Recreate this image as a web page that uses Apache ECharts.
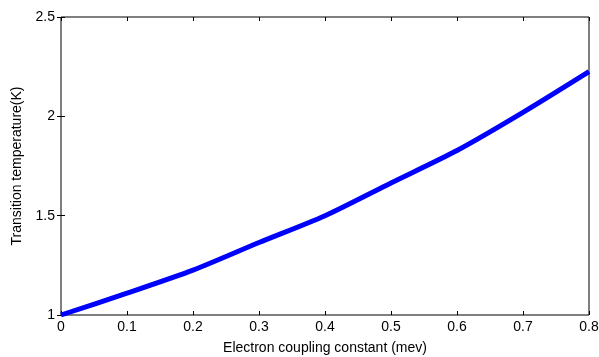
<!DOCTYPE html>
<html>
<head>
<meta charset="utf-8">
<script src="https://cdn.jsdelivr.net/npm/echarts@6/dist/echarts.min.js"></script>
<style>
  html, body { margin: 0; padding: 0; background: #fff; }
  #chart { width: 599px; height: 357px; }
</style>
</head>
<body>
<div id="chart"></div>
<script>
const couplingX = [0, 0.1, 0.2, 0.3, 0.4, 0.5, 0.6, 0.7, 0.8];
const transitionT = [1.0, 1.11, 1.226, 1.365, 1.5, 1.665, 1.828, 2.02, 2.225];

const font = 'Liberation Sans, Arial, sans-serif';
const hiddenAxis = {
  axisLine: { show: false },
  axisLabel: { show: false },
  splitLine: { show: false },
  axisTick: { inside: true, length: 4, lineStyle: { color: '#000' } }
};

const chart = echarts.init(document.getElementById('chart'));
chart.setOption({
  animation: false,
  grid: {
    left: 61, right: 10, top: 17, bottom: 42,
    outerBoundsMode: 'none', containLabel: false,
    show: true, borderColor: '#000', borderWidth: 1
  },
  xAxis: [
    {
      type: 'value', min: 0, max: 0.8, interval: 0.1,
      name: 'Electron coupling constant (mev)',
      nameLocation: 'middle', nameGap: 26,
      nameTextStyle: { fontFamily: font, fontSize: 14, color: '#000' },
      axisLine: { show: false },
      axisTick: { inside: true, length: 4, lineStyle: { color: '#000' } },
      splitLine: { show: false },
      axisLabel: { fontFamily: font, fontSize: 14, color: '#000', margin: 5,
        formatter: v => (v === 0 ? '0' : v.toFixed(1)) }
    },
    Object.assign({ type: 'value', position: 'top', min: 0, max: 0.8, interval: 0.1 }, hiddenAxis)
  ],
  yAxis: [
    {
      type: 'value', min: 1, max: 2.5, interval: 0.5,
      name: 'Transition temperature(K)',
      nameLocation: 'middle', nameGap: 35,
      nameTextStyle: { fontFamily: font, fontSize: 14, color: '#000' },
      axisLine: { show: false },
      axisTick: { inside: true, length: 4, lineStyle: { color: '#000' } },
      splitLine: { show: false },
      axisLabel: { fontFamily: font, fontSize: 14, color: '#000', margin: 6 }
    },
    Object.assign({ type: 'value', position: 'right', min: 1, max: 2.5, interval: 0.5 }, hiddenAxis)
  ],
  series: [
    {
      type: 'line',
      data: couplingX.map((x, i) => [x, transitionT[i]]),
      showSymbol: false,
      smooth: 0.25,
      lineStyle: { color: '#0000ff', width: 5 },
      itemStyle: { color: '#0000ff' }
    }
  ]
});
</script>
</body>
</html>
